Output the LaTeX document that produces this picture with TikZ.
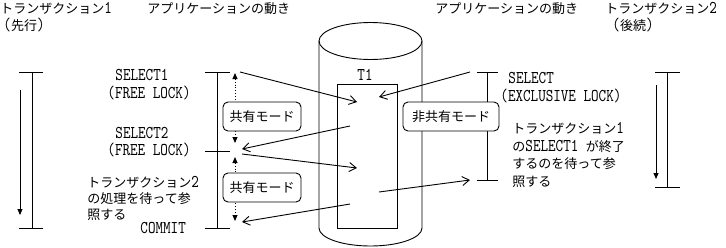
\documentclass[tikz,border=0pt]{standalone}
\usepackage{fontspec}
\newfontfamily\jp{Noto Sans CJK JP}
\newfontfamily\lat[FakeStretch=0.8]{lmmono10-regular.otf}
\usetikzlibrary{arrows.meta}
\newcommand{\J}{\jp\fontsize{13}{16}\selectfont}
\newcommand{\La}[1]{{\lat\fontsize{18}{16}\selectfont #1}}
\begin{document}
\begin{tikzpicture}[x=1pt,y=-1pt,line width=0.9pt,
  lbl/.style={inner sep=0pt,anchor=west,font=\J,text height=11.5pt,text depth=1.5pt},
  openarr/.style={-{Straight Barb[length=7pt,width=9pt]}},
  triarr/.style={-{Triangle[length=6pt,width=5pt]}},
  dotarr/.style={dotted,{Triangle[length=6pt,width=5pt]}-{Triangle[length=6pt,width=5pt]}},
  modebox/.style={draw,fill=white,rounded corners=5pt,font=\J,inner sep=0pt,minimum height=29pt}]
\fill[white] (0,0) rectangle (726,247);
\useasboundingbox (0,0) rectangle (726,247);

% headings
\node[lbl] (h1) at (0,8) {トランザクション\La{1}};
\node[lbl] (h1b) at (3,25) {\La{(}先行\La{)}};
\node[lbl] (h2) at (147,8) {アプリケーションの動き};
\node[lbl] (h3) at (435,8) {アプリケーションの動き};
\node[lbl] (h4) at (605,8) {トランザクション\La{2}};
\node[lbl] (h4b) at (612,25) {\La{(}後続\La{)}};

% left labels
\node[lbl] (s1) at (115,75) {\La{SELECT1}};
\node[lbl] (s1b) at (107,93) {\La{(FREE LOCK)}};
\node[lbl] (s2) at (115,133) {\La{SELECT2}};
\node[lbl] (s2b) at (107,150) {\La{(FREE LOCK)}};
\node[lbl] (w1) at (87,182) {トランザクション\La{2}};
\node[lbl] (w2) at (87,198) {の処理を待って参};
\node[lbl] (w3) at (87,214) {照する};
\node[lbl] (cm) at (140,228) {\La{COMMIT}};

% right labels
\node[lbl] (r1) at (508,78) {\La{SELECT}};
\node[lbl] (r1b) at (500,96) {\La{(EXCLUSIVE LOCK)}};
\node[lbl] (x1) at (512,128) {トランザクション\La{1}};
\node[lbl] (x2) at (512,146) {の\La{SELECT1 }が終了};
\node[lbl] (x3) at (512,163) {するのを待って参};
\node[lbl] (x4) at (512,181) {照する};

% cylinder (table store)
\draw (370.5,41) ellipse [x radius=51.5pt,y radius=18.5pt];
\draw (319,41) -- (319,228) arc[start angle=180,end angle=360,x radius=51.5pt,y radius=18pt] -- (422,41);
\node[draw,minimum width=60pt,minimum height=144pt,inner sep=0pt] (tbl) at (367,156) {};
\node[lbl,anchor=center] (t1lbl) at (365,75) {\La{T1}};

% transaction 1 timeline
\coordinate (t1s) at (32,72); \coordinate (t1e) at (32,228);
\draw (t1s) -- (t1e);
\draw ([xshift=-13pt]t1s) -- ([xshift=11pt]t1s);
\draw ([xshift=-13pt]t1e) -- ([xshift=11pt]t1e);
\coordinate (t1a) at (20,90); \coordinate (t1b) at (20,215);
\draw[triarr] (t1a) -- (t1b);

% application (left) timeline
\coordinate (ap1) at (217,72); \coordinate (ap2) at (217,151); \coordinate (ap3) at (217,228);
\draw (ap1) -- (ap3);
\foreach \c in {ap1,ap2,ap3} \draw ([xshift=-12pt]\c) -- ([xshift=13pt]\c);

% application (right) timeline
\coordinate (bp1) at (487,72); \coordinate (bp2) at (487,180);
\draw (bp1) -- (bp2);
\foreach \c in {bp1,bp2} \draw ([xshift=-10pt]\c) -- ([xshift=11pt]\c);

% transaction 2 timeline
\coordinate (t2s) at (667,72); \coordinate (t2e) at (667,187);
\draw (t2s) -- (t2e);
\draw ([xshift=-12pt]t2s) -- ([xshift=13pt]t2s);
\draw ([xshift=-12pt]t2e) -- ([xshift=13pt]t2e);
\coordinate (t2a) at (656,85); \coordinate (t2b) at (656,179);
\draw[triarr] (t2a) -- (t2b);

% dotted double arrows
\coordinate (d1a) at (235,73); \coordinate (d1b) at (235,143);
\coordinate (d2a) at (235,157); \coordinate (d2b) at (235,221);
\draw[dotarr] (d1a) -- (d1b);
\draw[dotarr] (d2a) -- (d2b);

% data arrows
\coordinate (a1s) at (240,72);  \coordinate (a1e) at (357,102);
\coordinate (a2s) at (470,72);  \coordinate (a2e) at (379,97);
\coordinate (a3s) at (350,126); \coordinate (a3e) at (242,149);
\coordinate (a4s) at (242,154); \coordinate (a4e) at (357,168);
\coordinate (a5s) at (379,192); \coordinate (a5e) at (470,180);
\coordinate (a6s) at (350,204); \coordinate (a6e) at (242,222);
\foreach \i in {1,...,6} \draw[openarr] (a\i s) -- (a\i e);

% mode boxes
\node[modebox,minimum width=78pt] (m1) at (262,116.5) {共有モード};
\node[modebox,minimum width=78pt] (m2) at (262,187.5) {共有モード};
\node[modebox,minimum width=96pt] (m3) at (451,116.5) {非共有モード};
\end{tikzpicture}
\end{document}
